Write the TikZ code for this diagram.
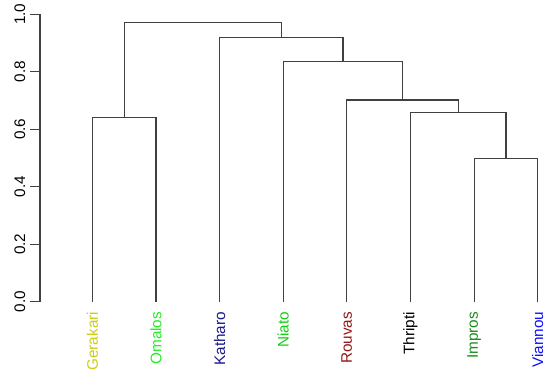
\documentclass[tikz,border=0pt]{standalone}
\usepackage{fontspec}
\setmainfont{Liberation Sans}
\usepackage{xcolor}
\definecolor{ger}{HTML}{CCCC11}
\definecolor{oma}{HTML}{22EE22}
\definecolor{kat}{HTML}{1A1A8B}
\definecolor{nia}{HTML}{11D011}
\definecolor{rou}{HTML}{951515}
\definecolor{thr}{HTML}{000000}
\definecolor{imp}{HTML}{1A8C1A}
\definecolor{via}{HTML}{1010FF}
\tikzset{
  branch/.style={draw=black!75,line width=1.2pt},
  leaflabel/.style={rotate=90,anchor=east,inner sep=0pt,font=\fontsize{15.3}{18}\selectfont},
  ticklabel/.style={rotate=90,anchor=base,inner sep=0pt,font=\fontsize{15.3}{18}\selectfont}
}

\begin{document}
\begin{tikzpicture}[x=1pt,y=287.4pt]
  \useasboundingbox (0pt,-73.3pt) rectangle (550pt,301.7pt);
  % Height axis
  \draw[branch] (40,0) -- (40,1);
  \foreach \v [count=\i] in {0.0,0.2,0.4,0.6,0.8,1.0}{
    \draw[branch] (40,\v) -- (30,\v);
    \node[ticklabel] (tick\i) at (25,\v) {\v};
  }
  % Leaves
  \foreach \short/\name/\x in {ger/Gerakari/92.3,oma/Omalos/155.9,kat/Katharo/219.6,
      nia/Niato/283.2,rou/Rouvas/346.8,thr/Thripti/410.5,imp/Impros/474.1,via/Viannou/537.7}{
    \coordinate (\short) at (\x,0);
    \node[leaflabel,text=\short] (lab\short) at ([yshift=-10pt]\short) {\name};
  }
  % Merges
  \coordinate (m1) at (124.1,0.640);
  \coordinate (m2) at (505.9,0.499);
  \coordinate (m3) at (458.2,0.657);
  \coordinate (m4) at (402.5,0.702);
  \coordinate (m5) at (342.9,0.836);
  \coordinate (m6) at (281.2,0.919);
  \coordinate (m7) at (202.7,0.972);
  \draw[branch] (ger) |- (m1) -| (oma);
  \draw[branch] (imp) |- (m2) -| (via);
  \draw[branch] (thr) |- (m3) -| (m2);
  \draw[branch] (rou) |- (m4) -| (m3);
  \draw[branch] (nia) |- (m5) -| (m4);
  \draw[branch] (kat) |- (m6) -| (m5);
  \draw[branch] (m1) |- (m7) -| (m6);
\end{tikzpicture}
\end{document}
